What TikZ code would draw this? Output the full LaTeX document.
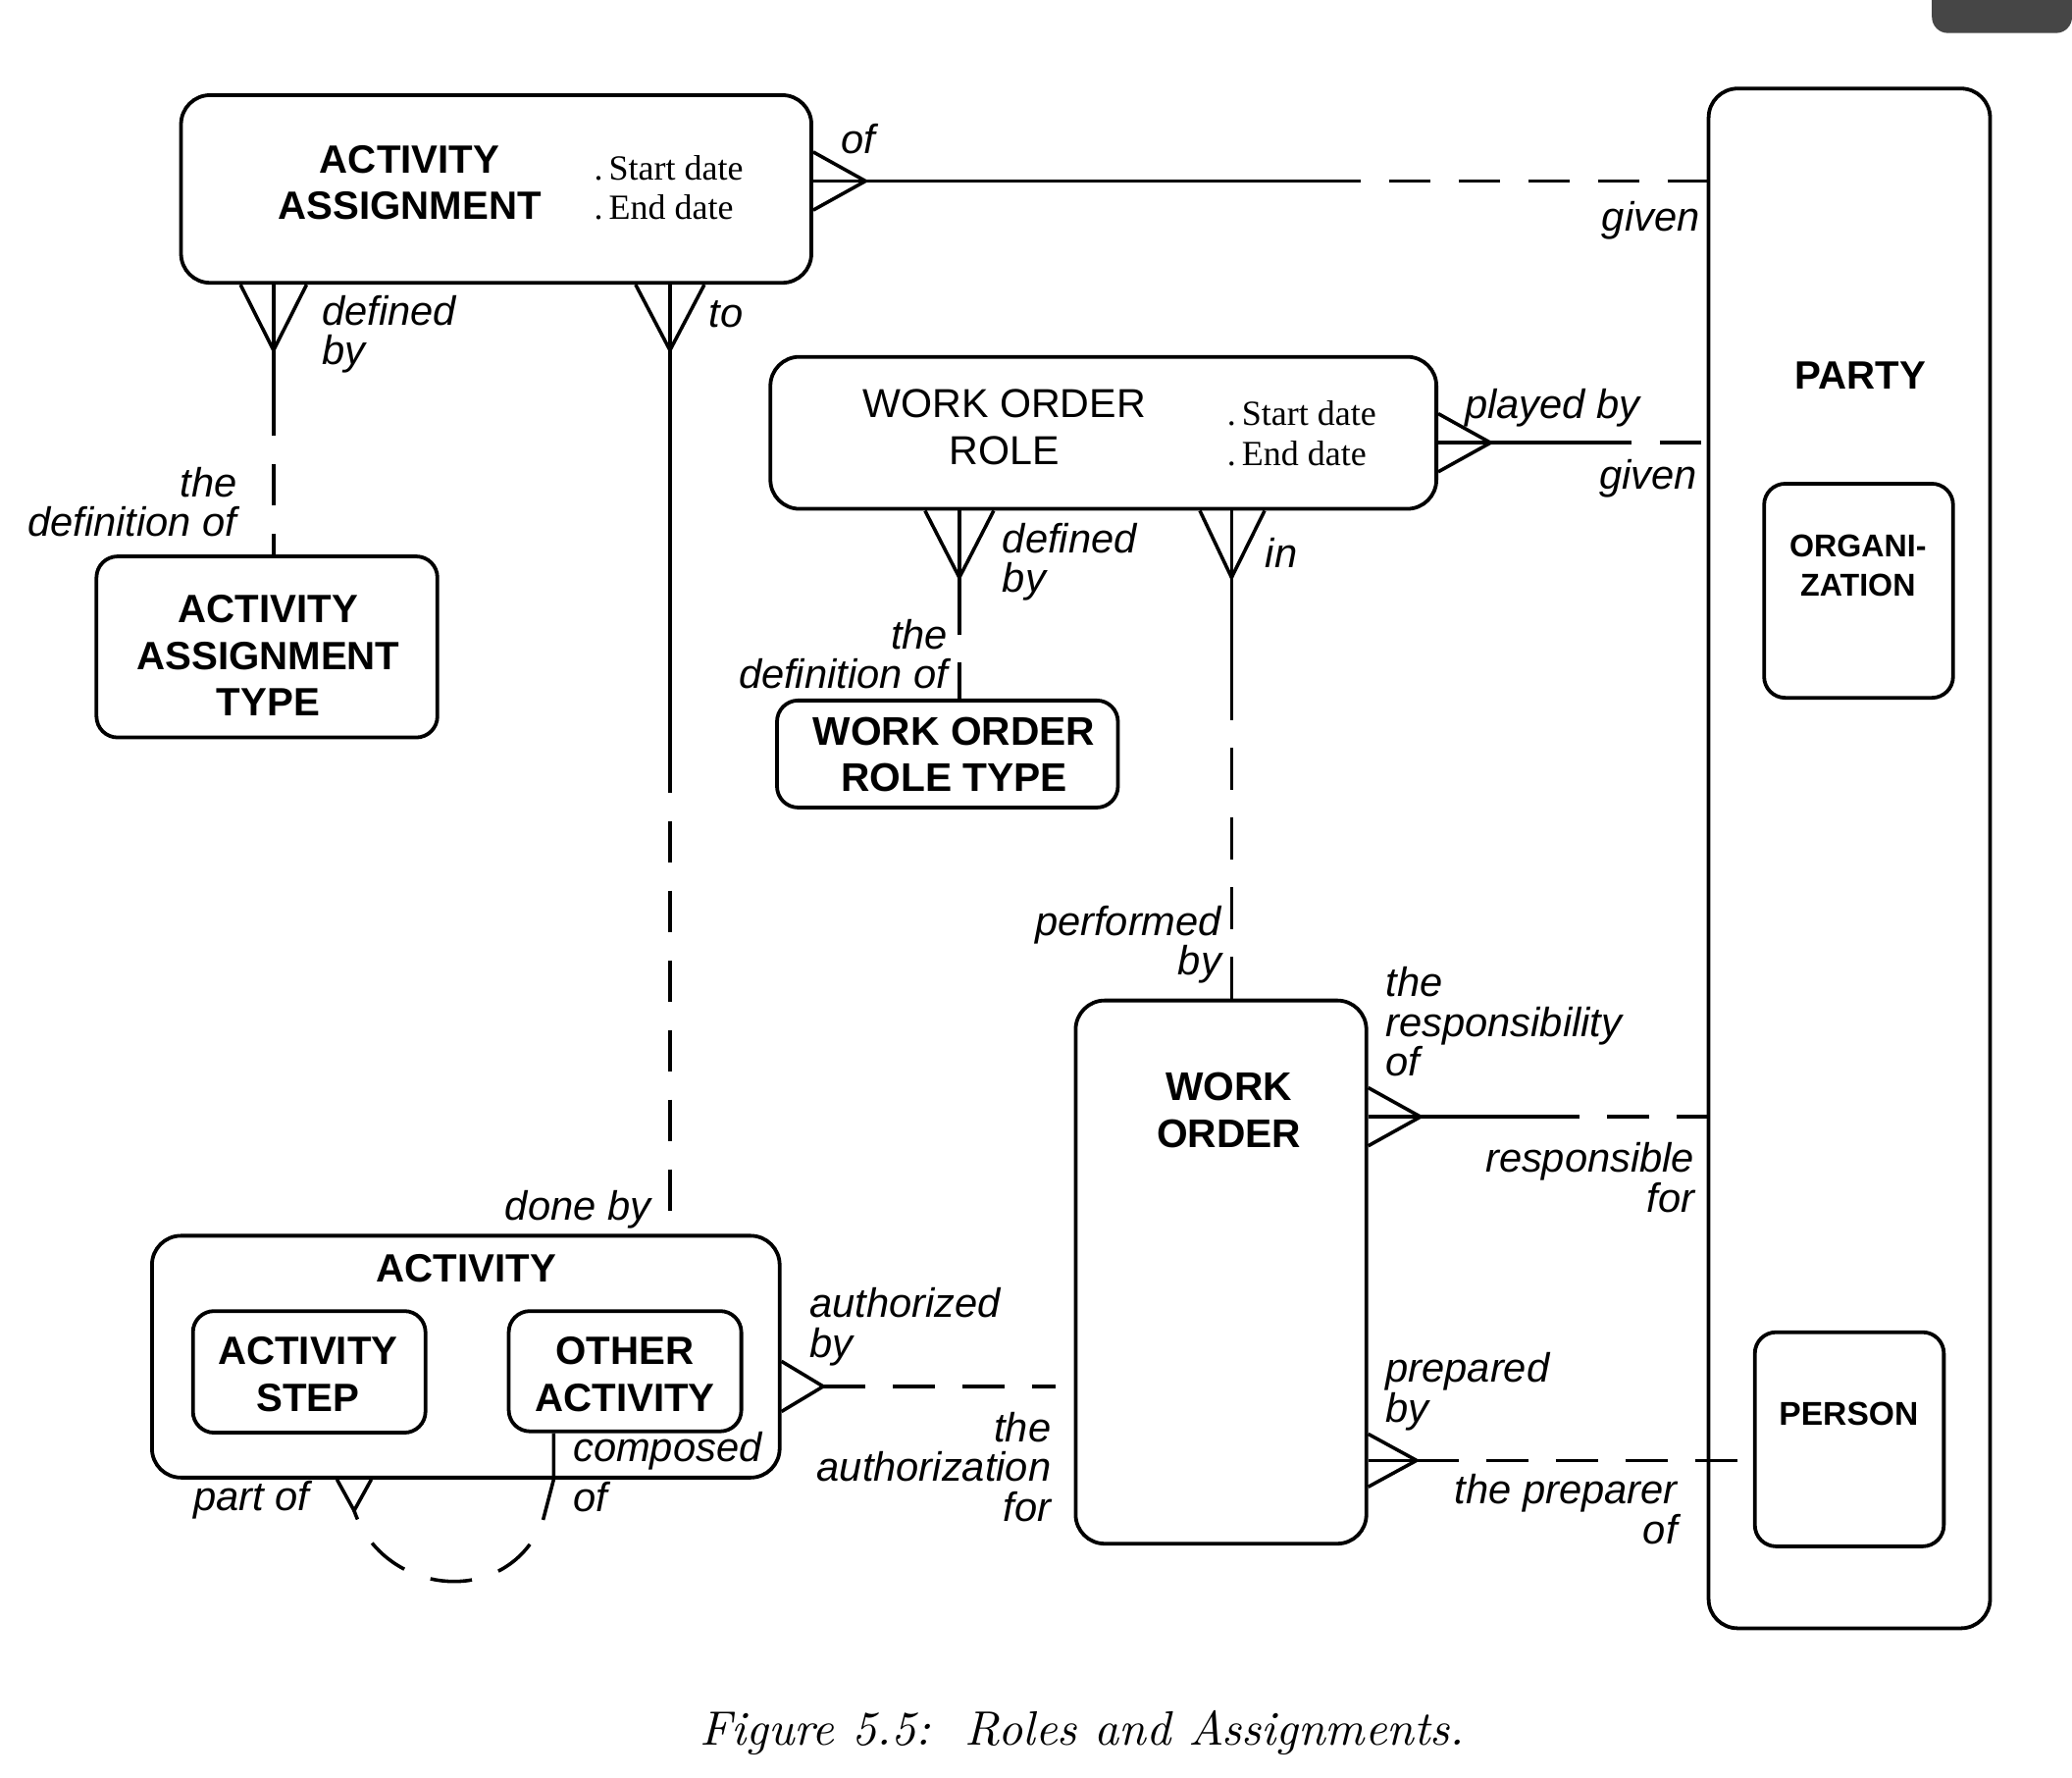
\documentclass[tikz,border=0pt]{standalone}
\usepackage{fontspec}
\newfontfamily\sansf{Liberation Sans}
\newfontfamily\seriff{Liberation Serif}
\usetikzlibrary{calc}
\begin{document}
\begin{tikzpicture}[x=0.1mm,y=-0.1mm,
  box/.style={draw,line width=0.8pt,rounded corners=2.2mm,inner sep=0},
  sbox/.style={box,rounded corners=1.6mm},
  ent/.style={font=\sansf\bfseries\fontsize{8.5}{10}\selectfont,align=center,inner sep=0},
  attr/.style={font=\seriff\fontsize{7.6}{8.5}\selectfont,align=left,inner sep=0,anchor=west},
  lbl/.style={font=\sansf\itshape\fontsize{8.8}{8.5}\selectfont,inner sep=0},
  lblL/.style={lbl,anchor=west,align=left},
  lblR/.style={lbl,anchor=east,align=right},
  ln/.style={line width=0.75pt},
  dsh/.style={line width=0.75pt,dash pattern=on 9pt off 6pt},
  dshg/.style={dsh,dash phase=9pt}]
\useasboundingbox (0,0) rectangle (1568,1345);
\fill[gray!55!black] (1568,0) -- (1462,0) [rounded corners=1.2mm] -- (1462,25) -- (1568,25) [sharp corners] -- cycle;

% ---------- entities ----------
\node[box,minimum width=47.7mm,minimum height=14.2mm] (aa) at (375.5,143) {};
\node[ent] (aan) at (310,138) {ACTIVITY\\ASSIGNMENT};
\node[attr] (aaa) at (449,142) {.\,Start date\\.\,End date};

\node[box,minimum width=21.3mm,minimum height=116.5mm] (party) at (1399.5,649.5) {};
\node[ent] (partyn) at (1408,284) {PARTY};
\node[sbox,minimum width=14.3mm,minimum height=16.2mm] (org) at (1406.5,447) {};
\node[ent,font=\sansf\bfseries\fontsize{6.8}{8.3}\selectfont] (orgn) at (1406,428) {ORGANI-\\ZATION};
\node[sbox,minimum width=14.3mm,minimum height=16.2mm] (person) at (1399.5,1089) {};
\node[ent,font=\sansf\bfseries\fontsize{7.1}{8.5}\selectfont] (personn) at (1399,1070) {PERSON};

\node[box,minimum width=50.4mm,minimum height=11.5mm] (wor) at (835,327.5) {};
\node[ent,font=\sansf\fontsize{8.7}{10.2}\selectfont] (worn) at (760,323) {WORK ORDER\\ROLE};
\node[attr] (wora) at (928,328) {.\,Start date\\.\,End date};

\node[sbox,minimum width=25.8mm,minimum height=13.7mm] (aat) at (202,489.5) {};
\node[ent] (aatn) at (203,496) {ACTIVITY\\ASSIGNMENT\\TYPE};

\node[sbox,minimum width=25.8mm,minimum height=8.1mm] (wort) at (717,570.5) {};
\node[ent,font=\sansf\bfseries\fontsize{8.6}{10}\selectfont] (wortn) at (722,571) {WORK ORDER\\ROLE TYPE};

\node[box,minimum width=22mm,minimum height=41.1mm] (wo) at (924,962.5) {};
\node[ent,font=\sansf\bfseries\fontsize{8.6}{10.2}\selectfont] (won) at (930,840) {WORK\\ORDER};

\node[box,minimum width=47.5mm,minimum height=18.3mm] (act) at (352.5,1026.5) {};
\node[ent] (actn) at (353,960) {ACTIVITY};
\node[sbox,minimum width=17.6mm,minimum height=9.2mm] (as) at (234,1038) {};
\node[ent] (asn) at (233,1040) {ACTIVITY\\STEP};
\node[sbox,minimum width=17.6mm,minimum height=9.1mm] (oa) at (473,1037.5) {};
\node[ent] (oan) at (473,1040) {OTHER\\ACTIVITY};

% ---------- connectors ----------
% ACTIVITY ASSIGNMENT -- PARTY
\coordinate (f1) at (655,137);
\draw[ln] (aa.east|-0,115) -- (f1) -- (aa.east|-0,159);
\draw[ln] (aa.east|-f1) -- (1030,137) coordinate (m1);
\draw[dshg] (m1) -- (party.west|-f1);
\node[lblL] (l1a) at (636,105) {of};
\node[lblR] (l1b) at (1287,167) {given};

% ACTIVITY ASSIGNMENT -- ACTIVITY ASSIGNMENT TYPE
\coordinate (f2) at (207,265);
\draw[ln] (aa.south-|182,0) -- (f2) -- (aa.south-|232,0);
\draw[ln] (aa.south-|f2) -- (207,330) coordinate (m2);
\draw[dshg] (m2) -- (aat.north-|f2);
\node[lblL] (l2a) at (243,253) {defined\\by};
\node[lblR] (l2b) at (180,380) {the\\definition of};

% ACTIVITY ASSIGNMENT -- ACTIVITY
\coordinate (f3) at (507,265);
\draw[ln] (aa.south-|481,0) -- (f3) -- (aa.south-|533,0);
\draw[ln] (aa.south-|f3) -- (507,600) coordinate (m3);
\draw[dshg] (m3) -- (act.north-|f3);
\node[lblL] (l3a) at (536,238) {to};
\node[lblR] (l3b) at (493,915) {done by};

% WORK ORDER ROLE -- PARTY
\coordinate (f4) at (1128,335);
\draw[ln] (wor.east|-0,313) -- (f4) -- (wor.east|-0,357);
\draw[ln] (wor.east|-f4) -- (1235,335) coordinate (m4);
\draw[dshg] (m4) -- (party.west|-f4);
\node[lblL] (l4a) at (1108,309) {played by};
\node[lblR] (l4b) at (1285,362) {given};

% WORK ORDER ROLE -- WORK ORDER ROLE TYPE
\coordinate (f5) at (726,437);
\draw[ln] (wor.south-|700,0) -- (f5) -- (wor.south-|752,0);
\draw[ln] (wor.south-|f5) -- (726,480) coordinate (m5);
\draw[dshg] (m5) -- (wort.north-|f5);
\node[lblL] (l5a) at (758,425) {defined\\by};
\node[lblR] (l5b) at (718,495) {the\\definition of};

% WORK ORDER ROLE -- WORK ORDER
\coordinate (f6) at (932,437);
\draw[ln] (wor.south-|908,0) -- (f6) -- (wor.south-|957,0);
\draw[ln] (wor.south-|f6) -- (932,545) coordinate (m6);
\draw[dshg] (m6) -- (wo.north-|f6);
\node[lblL] (l6a) at (957,418) {in};
\node[lblR] (l6b) at (925,715) {performed\\by};

% WORK ORDER -- PARTY
\coordinate (f7) at (1075,845);
\draw[ln] (wo.east|-0,823) -- (f7) -- (wo.east|-0,867);
\draw[ln] (wo.east|-f7) -- (1195,845) coordinate (m7);
\draw[dshg] (m7) -- (party.west|-f7);
\node[lblL] (l7a) at (1048,773) {the\\responsibility\\of};
\node[lblR] (l7b) at (1283,891) {responsible\\for};

% WORK ORDER -- PERSON
\coordinate (f8) at (1072,1105);
\draw[ln] (wo.east|-0,1085) -- (f8) -- (wo.east|-0,1125);
\draw[ln] (wo.east|-f8) -- (f8);
\draw[dsh] (f8) -- (person.west|-f8);
\node[lblL] (l8a) at (1048,1053) {prepared\\by};
\node[lblR] (l8b) at (1270,1142) {the preparer\\of};

% ACTIVITY -- WORK ORDER
\coordinate (f9) at (623,1049);
\draw[ln] (act.east|-0,1030) -- (f9) -- (act.east|-0,1068);
\coordinate (e9) at ($(wo.west|-f9)+(-14,0)$);
\draw[dsh] (f9) -- (e9);
\node[lblL] (l9a) at (612,1004) {authorized\\by};
\node[lblR] (l9b) at (796,1110) {the\\authorization\\for};

% ACTIVITY recursive (composed of / part of)
\coordinate (f10) at (268,1143);
\draw[ln] (act.south-|255,0) -- (f10) -- (act.south-|281,0);
\draw[ln] (oa.south-|419,0) -- (act.south-|419,0) -- (411,1150) coordinate (m10);
\draw[dshg] (m10) .. controls (385,1218) and (290,1208) .. (f10);
\node[lblL] (l10a) at (433,1098) {composed};
\node[lblL] (l10b) at (433,1133) {of};
\node[lblR] (l10c) at (235,1135) {part of};

% caption
\node[font=\itshape\fontsize{10.4}{12}\selectfont,inner sep=0] (cap) at (819,1311) {Figure 5.5:\ \ Roles and Assignments.};
\end{tikzpicture}
\end{document}
